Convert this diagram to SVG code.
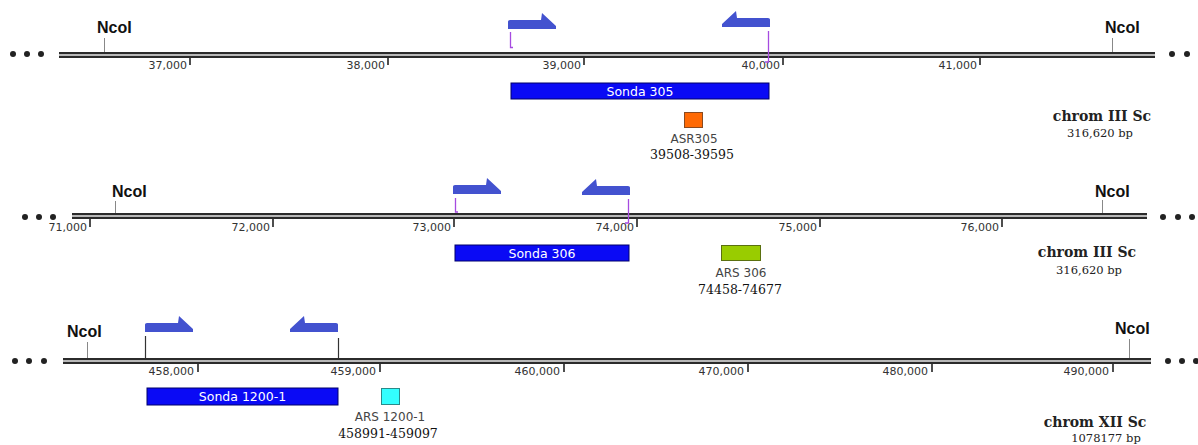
<svg xmlns="http://www.w3.org/2000/svg" xmlns:xlink="http://www.w3.org/1999/xlink" width="1198" height="445" viewBox="0 0 1198 445">
<style>
.bg{fill:#ffffff}
.trk{fill:#2b2b2b}
.trkmid{fill:#b8b8b8}
.dot{fill:#222}
.tick{stroke:#222;stroke-width:1.6}
.site{stroke:#888;stroke-width:1}
.tl{font-family:"DejaVu Sans",Verdana,sans-serif;font-size:11px;fill:#333;text-anchor:end}
.enz{font-family:"Liberation Sans",Arial,sans-serif;font-weight:bold;font-size:16px;fill:#111}
.primer{fill:#4352cf}
.pl{stroke:#a64be0;stroke-width:1.3;fill:none}
.bl{stroke:#333;stroke-width:1.2;fill:none}
.probe{fill:#0a0af5;stroke:#00006a;stroke-width:1}
.pt{font-family:"DejaVu Sans",Verdana,sans-serif;font-size:12.5px;fill:#fff;text-anchor:middle}
.lab{font-family:"DejaVu Sans",Verdana,sans-serif;font-size:12px;fill:#444;text-anchor:middle}
.coord{font-family:"DejaVu Serif",Georgia,serif;font-size:12.5px;fill:#111;text-anchor:middle}
.chr{font-family:"DejaVu Serif",Georgia,serif;font-weight:bold;font-size:14px;fill:#222;text-anchor:middle}
.bp{font-family:"DejaVu Serif",Georgia,serif;font-size:11.5px;fill:#222;text-anchor:middle}
</style>
<defs>
<path id="fwd" d="M0,0 L0,-7.5 Q0,-9 2,-9 L33,-9 L34,-16 L48,-3 L48,0 Z"/>
</defs>
<rect class="bg" x="0" y="0" width="1198" height="445"/>

<g id="row1">
  <g id="track1">
    <rect class="trk" x="59" y="52" width="1096" height="6"/>
    <rect class="trkmid" x="59" y="54" width="1096" height="2"/>
    <circle class="dot" cx="13" cy="54" r="3"/><circle class="dot" cx="27" cy="54" r="3"/><circle class="dot" cx="41" cy="54" r="3"/>
    <circle class="dot" cx="1172" cy="54" r="3"/><circle class="dot" cx="1187" cy="54" r="3"/><circle class="dot" cx="1201" cy="54" r="3"/>
    <line class="tick" x1="190" y1="58" x2="190" y2="65"/><text class="tl" x="187" y="69">37,000</text>
    <line class="tick" x1="388" y1="58" x2="388" y2="65"/><text class="tl" x="385" y="69">38,000</text>
    <line class="tick" x1="584" y1="58" x2="584" y2="65"/><text class="tl" x="581" y="69">39,000</text>
    <line class="tick" x1="783" y1="58" x2="783" y2="65"/><text class="tl" x="780" y="69">40,000</text>
    <line class="tick" x1="980" y1="58" x2="980" y2="65"/><text class="tl" x="977" y="69">41,000</text>
  </g>
  <g id="ncoI-1a"><line class="site" x1="104.5" y1="38" x2="104.5" y2="52"/><text class="enz" x="97" y="33">NcoI</text></g>
  <g id="ncoI-1b"><line class="site" x1="1112.5" y1="38" x2="1112.5" y2="52"/><text class="enz" x="1105" y="33">NcoI</text></g>
  <g id="primers1">
    <use xlink:href="#fwd" class="primer" transform="translate(508,29)"/>
    <use xlink:href="#fwd" class="primer" transform="translate(770,27) scale(-1,1)"/>
    <path class="pl" d="M510.5,32 L510.5,47.5 L513,47.5"/>
    <path class="pl" d="M768.5,31 L768.5,62 L765,62"/>
  </g>
  <g id="sonda305"><rect class="probe" x="511" y="83" width="258" height="16"/><text class="pt" x="640" y="95.5">Sonda 305</text></g>
  <g id="asr305">
    <rect x="684.5" y="112.5" width="18" height="15" fill="#ff6a05" stroke="#8a4a20" stroke-width="1"/>
    <text class="lab" x="694" y="143">ASR305</text>
    <text class="coord" x="692" y="159">39508-39595</text>
  </g>
  <g id="chr1"><text class="chr" x="1102" y="121">chrom III Sc</text><text class="bp" x="1100" y="137">316,620 bp</text></g>
</g>

<g id="row2">
  <g id="track2">
    <rect class="trk" x="72" y="213" width="1075" height="6"/>
    <rect class="trkmid" x="72" y="215" width="1075" height="2"/>
    <circle class="dot" cx="25" cy="217" r="3"/><circle class="dot" cx="39" cy="217" r="3"/><circle class="dot" cx="53" cy="217" r="3"/>
    <circle class="dot" cx="1163" cy="217" r="3"/><circle class="dot" cx="1178" cy="217" r="3"/><circle class="dot" cx="1192" cy="217" r="3"/>
    <line class="tick" x1="90" y1="219" x2="90" y2="227"/><text class="tl" x="87" y="231">71,000</text>
    <line class="tick" x1="273" y1="219" x2="273" y2="227"/><text class="tl" x="270" y="231">72,000</text>
    <line class="tick" x1="454" y1="219" x2="454" y2="227"/><text class="tl" x="451" y="231">73,000</text>
    <line class="tick" x1="637" y1="219" x2="637" y2="227"/><text class="tl" x="634" y="231">74,000</text>
    <line class="tick" x1="820" y1="219" x2="820" y2="227"/><text class="tl" x="817" y="231">75,000</text>
    <line class="tick" x1="1002" y1="219" x2="1002" y2="227"/><text class="tl" x="999" y="231">76,000</text>
  </g>
  <g id="ncoI-2a"><line class="site" x1="115.5" y1="201" x2="115.5" y2="213"/><text class="enz" x="112" y="197">NcoI</text></g>
  <g id="ncoI-2b"><line class="site" x1="1102.5" y1="200" x2="1102.5" y2="213"/><text class="enz" x="1095" y="197">NcoI</text></g>
  <g id="primers2">
    <use xlink:href="#fwd" class="primer" transform="translate(453,194)"/>
    <use xlink:href="#fwd" class="primer" transform="translate(630,195) scale(-1,1)"/>
    <path class="pl" d="M455.5,198 L455.5,212 L458,212"/>
    <path class="pl" d="M628.5,199 L628.5,223 L625,223"/>
  </g>
  <g id="sonda306"><rect class="probe" x="455" y="245" width="174" height="16"/><text class="pt" x="542" y="257.5">Sonda 306</text></g>
  <g id="ars306">
    <rect x="721.5" y="245.5" width="39" height="15" fill="#99cc00" stroke="#5a7010" stroke-width="1"/>
    <text class="lab" x="741" y="277">ARS 306</text>
    <text class="coord" x="740" y="294">74458-74677</text>
  </g>
  <g id="chr2"><text class="chr" x="1087" y="257">chrom III Sc</text><text class="bp" x="1089" y="274">316,620 bp</text></g>
</g>

<g id="row3">
  <g id="track3">
    <rect class="trk" x="63" y="358" width="1088" height="6"/>
    <rect class="trkmid" x="63" y="360" width="1088" height="2"/>
    <circle class="dot" cx="15" cy="361" r="3"/><circle class="dot" cx="29" cy="361" r="3"/><circle class="dot" cx="44" cy="361" r="3"/>
    <circle class="dot" cx="1168" cy="361" r="3"/><circle class="dot" cx="1182" cy="361" r="3"/><circle class="dot" cx="1196" cy="361" r="3"/>
    <line class="tick" x1="198" y1="364" x2="198" y2="372"/><text class="tl" x="194" y="375">458,000</text>
    <line class="tick" x1="380" y1="364" x2="380" y2="372"/><text class="tl" x="376" y="375">459,000</text>
    <line class="tick" x1="564" y1="364" x2="564" y2="372"/><text class="tl" x="560" y="375">460,000</text>
    <line class="tick" x1="748" y1="364" x2="748" y2="372"/><text class="tl" x="744" y="375">470,000</text>
    <line class="tick" x1="932" y1="364" x2="932" y2="372"/><text class="tl" x="928" y="375">480,000</text>
    <line class="tick" x1="1113" y1="364" x2="1113" y2="372"/><text class="tl" x="1109" y="375">490,000</text>
  </g>
  <g id="ncoI-3a"><line class="site" x1="87.5" y1="342" x2="87.5" y2="358"/><text class="enz" x="67" y="337">NcoI</text></g>
  <g id="ncoI-3b"><line class="site" x1="1129.5" y1="339" x2="1129.5" y2="358"/><text class="enz" x="1115" y="334">NcoI</text></g>
  <g id="primers3">
    <use xlink:href="#fwd" class="primer" transform="translate(145,332)"/>
    <use xlink:href="#fwd" class="primer" transform="translate(338,332) scale(-1,1)"/>
    <path class="bl" d="M145.5,336 L145.5,358"/>
    <path class="bl" d="M338.5,338 L338.5,358"/>
  </g>
  <g id="sonda1200"><rect class="probe" x="147" y="388" width="191" height="17"/><text class="pt" x="242.5" y="401">Sonda 1200-1</text></g>
  <g id="ars1200">
    <rect x="381.5" y="388.5" width="18" height="16" fill="#33ffff" stroke="#2a8a8a" stroke-width="1"/>
    <text class="lab" x="390" y="421">ARS 1200-1</text>
    <text class="coord" x="388" y="438">458991-459097</text>
  </g>
  <g id="chr3"><text class="chr" x="1095" y="427">chrom XII Sc</text><text class="bp" x="1106" y="442">1078177 bp</text></g>
</g>
</svg>
